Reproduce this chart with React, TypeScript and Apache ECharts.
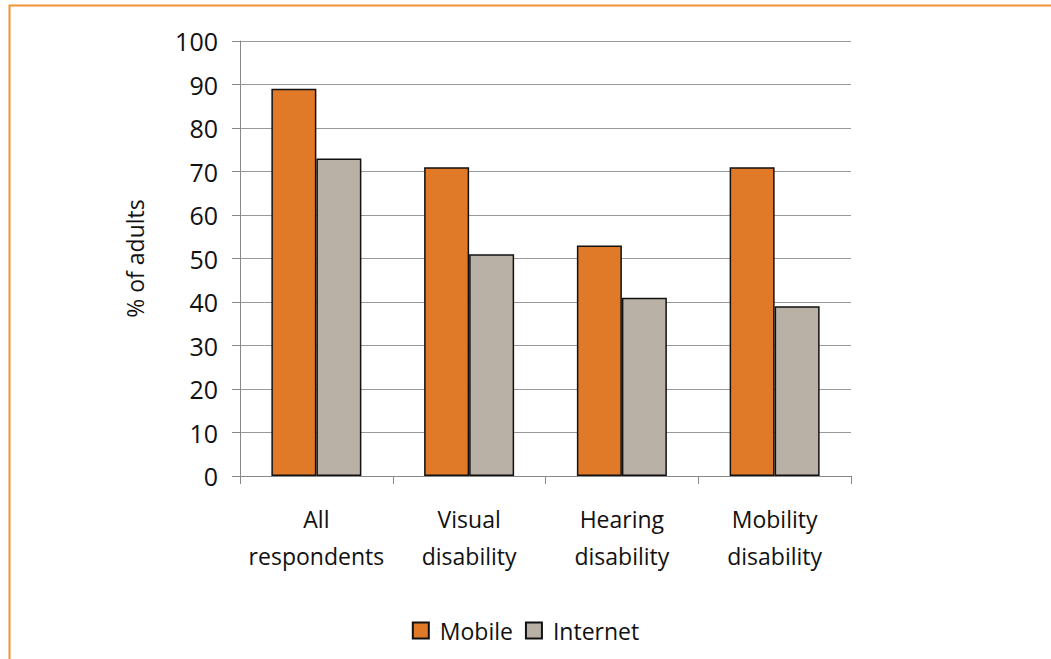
import React, { useEffect, useRef } from "react";
import * as echarts from "echarts";

const categories = ["All\nrespondents", "Visual\ndisability", "Hearing\ndisability", "Mobility\ndisability"];
const mobile = [89, 71, 53, 71];
const internet = [73, 51, 41, 39];
const yTicks = { min: 0, max: 100, interval: 10 };

const FONT = "'Open Sans', 'Noto Sans', sans-serif";

export default function App() {
  const ref = useRef<HTMLDivElement>(null);
  useEffect(() => {
    const chart = echarts.init(ref.current!, null, { renderer: "svg" });
    chart.setOption({
      animation: false,
      backgroundColor: "#ffffff",
      textStyle: { fontFamily: FONT },
      graphic: [
        {
          type: "rect",
          shape: { x: 9.5, y: 5.5, width: 1100, height: 700 },
          style: { fill: "none", stroke: "#F39233", lineWidth: 2 },
          silent: true,
        },
      ],
      legend: {
        bottom: 12,
        left: "center",
        icon: "rect",
        itemWidth: 16,
        itemHeight: 16,
        itemGap: 12,
        textStyle: { fontSize: 23, color: "#111", fontFamily: FONT, padding: [0, 0, 0, 6] },
        data: ["Mobile", "Internet"],
      },
      grid: { left: 240, right: 200, top: 41, bottom: 183, containLabel: false },
      xAxis: {
        type: "category",
        data: categories,
        axisLine: { lineStyle: { color: "#888", width: 1 } },
        axisTick: { show: true, length: 8, lineStyle: { color: "#888" } },
        axisLabel: { interval: 0, fontSize: 23, color: "#111", margin: 24, lineHeight: 37, fontFamily: FONT },
      },
      yAxis: {
        type: "value",
        min: yTicks.min,
        max: yTicks.max,
        interval: yTicks.interval,
        name: "% of adults",
        nameLocation: "middle",
        nameGap: 94,
        nameTextStyle: { fontSize: 23, color: "#111", fontFamily: FONT },
        axisLine: { show: true, lineStyle: { color: "#888", width: 1 } },
        axisTick: { show: true, length: 8, lineStyle: { color: "#888" } },
        splitLine: { lineStyle: { color: "#999", width: 1 } },
        axisLabel: { fontSize: 25, color: "#111", margin: 22, fontFamily: FONT },
      },
      series: [
        {
          name: "Mobile",
          type: "bar",
          data: mobile,
          barWidth: 45,
          barGap: "0%",
          itemStyle: { color: "#E07A28", borderColor: "#111", borderWidth: 1.5 },
        },
        {
          name: "Internet",
          type: "bar",
          data: internet,
          barWidth: 45,
          barGap: "0%",
          itemStyle: { color: "#BAB1A6", borderColor: "#111", borderWidth: 1.5 },
        },
      ],
    });
    return () => chart.dispose();
  }, []);
  return (
    <div
      ref={ref}
      style={{ position: "absolute", left: 0, top: 0, width: 1051, height: 659 }}
    />
  );
}
